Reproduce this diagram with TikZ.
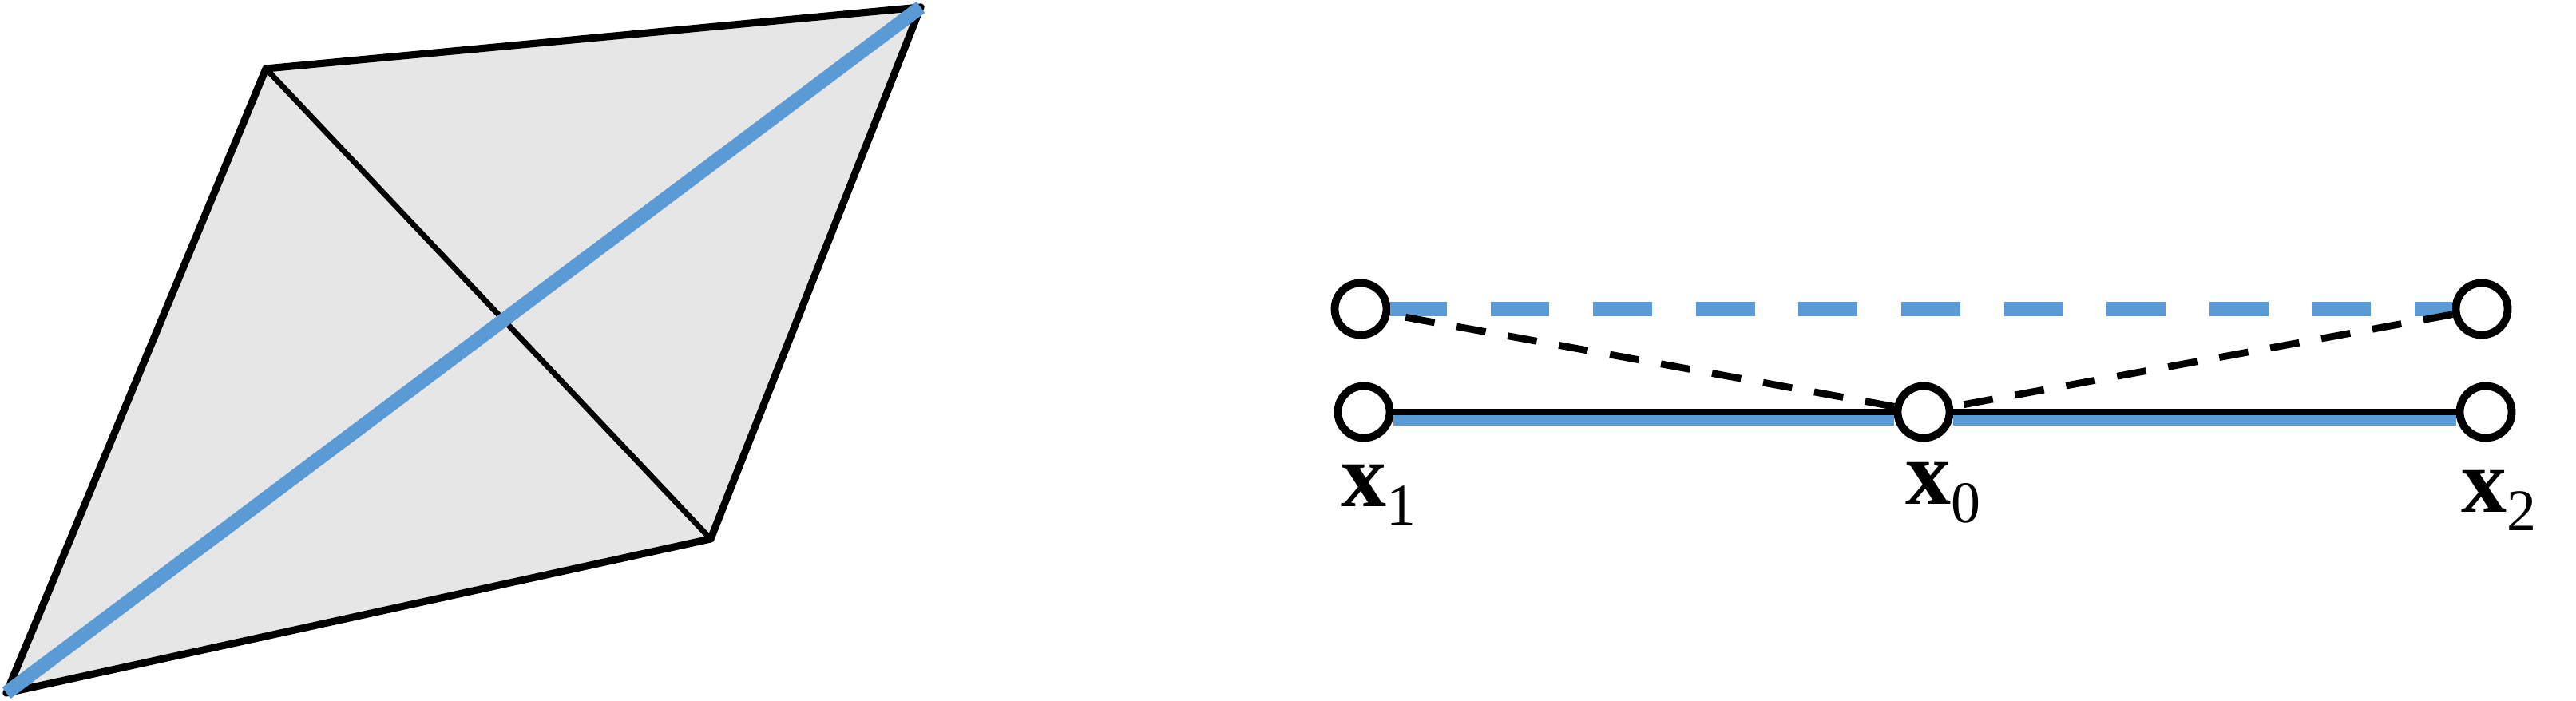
\documentclass[tikz,border=0pt]{standalone}
\usepackage{fontspec}
\setmainfont{Liberation Serif}
\definecolor{lineblue}{RGB}{91,155,213}
\definecolor{facegray}{RGB}{230,230,230}
\newcommand\lblsub[1]{\raisebox{-6.5pt}{\fontsize{21}{21}\selectfont#1}}
\begin{document}
	\begin{tikzpicture}[
		pt/.style={circle,draw,fill=white,line width=2.8pt,minimum size=0.65cm,inner sep=0pt},
		lbl/.style={font=\fontsize{32.4}{38}\selectfont,inner sep=0pt,anchor=base west},
		edge/.style={line width=2.6pt},
		bluepath/.style={lineblue,line width=5pt},
		dashblack/.style={line width=2.5pt,dash pattern=on 10.5pt off 8pt},
		dashblue/.style={lineblue,line width=5.1pt,dash pattern=on 21pt off 15.6pt,dash phase=1pt}]
		\useasboundingbox(0,0)rectangle(32.26,8.78);
		% parallelogram with its two diagonals
		\coordinate(A)at(0.08,0.10);
		\coordinate(B)at(3.33,7.92);
		\coordinate(C)at(11.53,8.69);
		\coordinate(D)at(8.90,2.03);
		\filldraw[fill=facegray,edge,line join=round](A)--(B)--(C)--(D)--cycle;
		\draw[line width=2pt](B)--(D);
		\draw[bluepath](A)--(C);
		% points on the line
		\node[pt](u1)at(17.04,4.91){};
		\node[pt](u2)at(31.08,4.91){};
		\node[pt](x1)at(17.08,3.62){};
		\node[pt](x0)at(24.09,3.62){};
		\node[pt](x2)at(31.13,3.62){};
		\draw[dashblue](u1)--(u2);
		\draw[dashblack](x0)--(u1) (u2)--(x0);
		\draw[bluepath,line width=4pt]([yshift=-0.10cm]x1.east)--([yshift=-0.10cm]x0.west)
			([yshift=-0.10cm]x0.east)--([yshift=-0.10cm]x2.west);
		\draw[line width=2.3pt](x1)--(x0)--(x2);
		\node[lbl](l1)at(16.79,2.43){\textbf{x}\lblsub{1}};
		\node[lbl](l0)at(23.86,2.46){\textbf{x}\lblsub{0}};
		\node[lbl](l2)at(30.82,2.36){\textbf{x}\lblsub{2}};
	\end{tikzpicture}
\end{document}
